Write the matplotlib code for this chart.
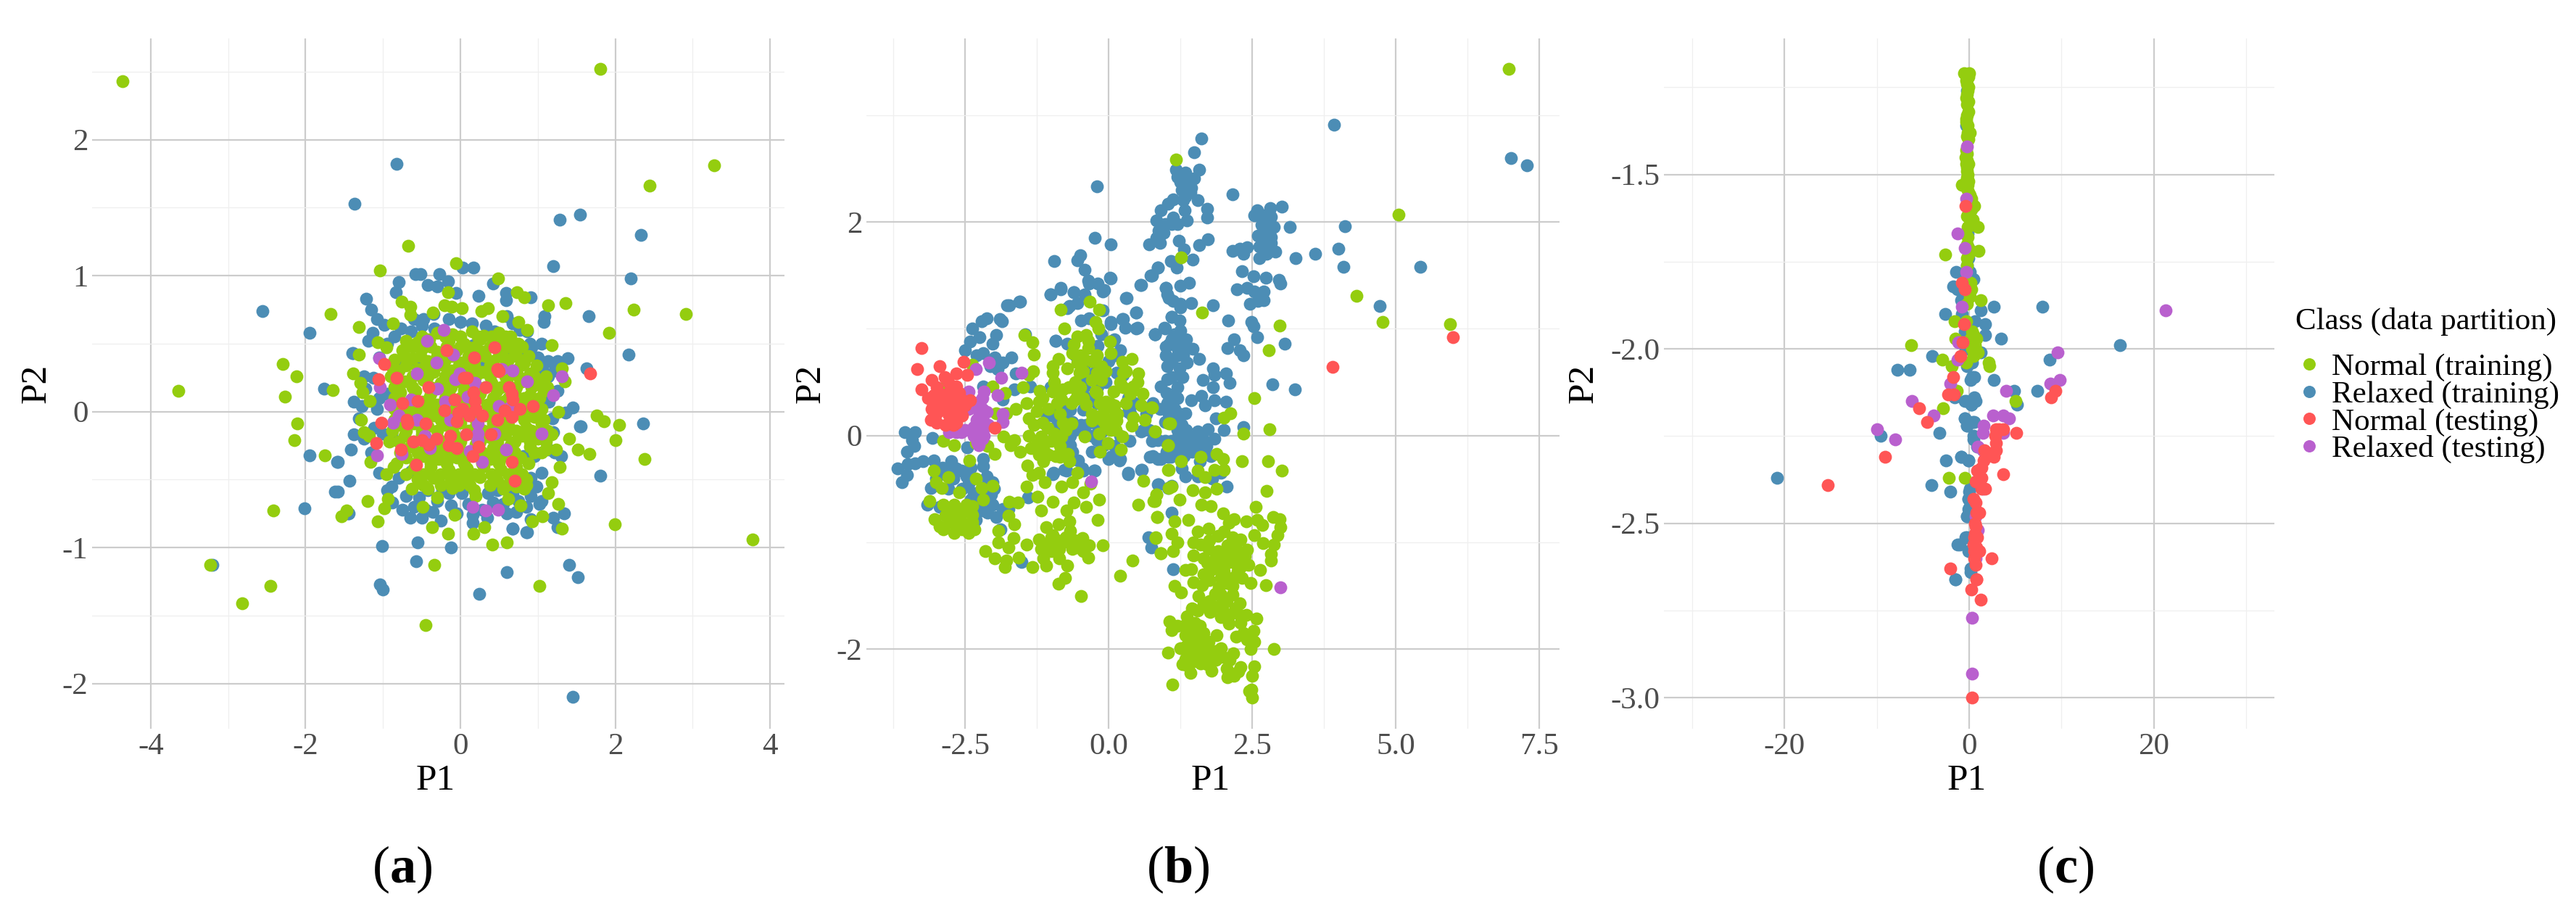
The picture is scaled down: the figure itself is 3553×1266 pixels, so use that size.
import numpy as np
import matplotlib
matplotlib.use("Agg")
import matplotlib.pyplot as plt

# valores leidos a ojo de la figura, (P1, P2)
class_names = ["Normal (training)", "Relaxed (training)", "Normal (testing)", "Relaxed (testing)"]
GREEN = "#94CD0F"
BLUE = "#4C8DB5"
RED = "#FF5555"
PURPLE = "#B960CE"

# ---- panel (a) ----
a_blue = [(.03,1.06),(.17,1.06),(-.58,1.01),(-.52,1.01),(-.27,1.01),(-.16,.96),(-.06,.87),(-.42,.93),(-.30,.92),(-.80,.95),
(-.83,.88),(.42,.94),(.23,.85),(.59,.87),(.91,.84),(.59,.82),(-1.22,.83),(-1.15,.75),(-1.08,.68),(-.98,.64),(-.77,.61),(-.64,.59),
(-.48,.68),(-.5,.63),(-.34,.61),(-1.13,.58),(-1.19,.52),(.33,.63),(.44,.59),(.67,.65),(.77,.60),(.86,.59),(1.09,.70),(1.08,.66),
(1.2,1.07),(1.66,.70),(.92,.47),(1.0,.40),(1.13,.37),(1.25,.37),(1.39,.39),(1.06,.32),(1.13,.26),(.8,.38),(.73,.43),(1.63,.32),
(-1.39,.43),(-1.25,.26),(-1.76,.17),(-1.38,.07),(-1.23,.17),(-1.27,.04),(-1.31,-.05),(-1.38,-.17),(-1.41,-.28),(-1.58,-.37),
(-1.43,-.51),(-1.58,-.59),(-.88,-.67),(-1.44,-.75),(-.65,-.78),(-.5,-.78),(-.25,-.8),(-.36,-.74),(-.12,-.69),(.16,-.82),(.16,-.76),
(.67,-.86),(.72,-.74),(.86,-.89),(.91,-.79),(1.02,-.68),(.91,-.62),(1.05,-.66),(1.2,-.78),(1.25,-.85),(1.34,-.75),(1.81,-.47),
(1.3,-.33),(.95,-.33),(.81,-.33),(1.14,-.28),(1.16,-.16),(1.55,-.11),(1.19,-.05),(1.36,-.01),(1.45,.03),(1.14,.07),(.91,-.49),
(-.89,-.55),(-.8,-.49),(-.64,-.44),(-.53,-.63),(-.42,-.58),(-.23,-.58),(.02,-.6),(-.03,-.53),(.36,-.6),(.48,-.58),(.42,-.67),
(.67,-.6),(-1.11,-.12),(-1.0,-.16),(-.89,-.17),(-.95,.13),(-1.08,.02),(-.8,.33),(-.58,.38),(.17,.49),(.3,.33),(.61,.40),
(-.82,1.82),(-1.37,1.53),(1.54,1.45),(1.28,1.41),(2.33,1.30),(2.2,.98),(-2.56,.74),(-1.95,.58),(2.17,.42),(-1.4,.43),(2.36,-.09),
(1.54,-.11),(-1.95,-.32),(-1.59,-.37),(-1.62,-.59),(-2.01,-.71),(-1.45,-.75),(-1.01,-.99),(-.55,-.96),(-.12,-1.0),(-.57,-1.1),
(.6,-1.18),(1.4,-1.13),(1.52,-1.22),(-3.2,-1.13),(-1.04,-1.27),(-1.0,-1.31),(.24,-1.34),(1.45,-2.1),(.67,-.86),(.85,-.89),
# anillo alrededor de la masa verde
(-.7,-.62),(-.6,-.7),(-.3,-.66),(-.15,-.6),(.1,-.68),(.28,-.72),(.55,-.68),(.75,-.66),(.85,-.7),(-.75,-.72),(-.95,-.58),(-1.05,-.45),
(-1.15,-.3),(-1.25,-.2),(-1.05,.1),(-1.12,.25),(-1.05,.4),(-.95,.5),(-.85,.55),(-.6,.68),(-.35,.72),(-.15,.68),(0,.66),(.15,.65),
(.6,.7),(.9,.5),(1.05,.5),(1.22,.3),(1.25,.15),(1.2,-.15),(1.22,-.3),(1.05,-.45),(.98,-.55),(-.45,-.72),(-.05,-.75),(.35,-.78),(.6,-.75)]

a_green = [(-4.36,2.43),(1.81,2.52),(3.28,1.81),(2.44,1.66),(-.67,1.22),(-.06,1.09),(-1.04,1.04),(.49,.98),(2.91,.72),(2.24,.75),
(1.92,.58),(-1.68,.72),(-2.29,.35),(-2.12,.26),(-3.64,.15),(-2.27,.11),(-1.65,.16),(-2.11,-.09),(-2.14,-.21),(-1.75,-.32),
(-2.42,-.73),(-1.54,-.77),(-1.47,-.73),(-1.2,-.66),(-1.07,-.81),(-3.23,-1.13),(-2.45,-1.28),(-2.82,-1.41),(-.45,-1.57),(-.34,-1.13),
(1.02,-1.28),(3.77,-.94),(1.99,-.83),(2.38,-.35),(2.0,-.21),(2.05,-.10),(1.76,-.03),(1.85,-.07),(1.67,-.31),(1.52,-.28),(1.4,-.2),
(1.28,-.41),(1.24,-.28),(1.18,-.52),(1.13,-.6),(1.26,-.68),(1.31,-.86),(1.06,-.77),(.93,-.81),(.78,-.69),(.6,-.96),(.41,-.98),
(.17,-.9),(.31,-.85),(-.16,-.9),(-.37,-.85),(-.08,-.76),(-.49,-.7),(-.94,-.64),(-.98,-.71),(1.36,.8),(1.13,.78),(.82,.84),(.73,.88),
(1.18,.49),(1.31,.32),(1.35,.22),(1.26,0),(.86,.6),(.75,.66),(-.16,.88),(-.76,.81),(-.65,.77),(-.65,.71),(-.36,.73),(-.21,.78),
(-.11,.77),(.02,.76),(.27,.74),(.36,.76),(.54,.70),(-.87,.65),(-1.31,.62),(-1.31,.42),(-1.39,.28),(-1.07,.51),(-.96,.47),(-1.29,.21),
(-1.26,.14),(-1.17,.08),(-1.28,-.06),(-1.25,-.15),(-1.18,-.18),(-.92,-.22),(-1.16,-.37),(-.86,-.41),(-.96,-.46),(-.63,-.57),
# masa densa del centro
(-.3,.58),(-.1,.57),(.15,.59),(.3,.56),(.5,.58),(.65,.55),(-.7,.52),(-.55,.51),(-.4,.53),(-.15,.52),(.05,.5),(.25,.53),(.45,.51),
(.6,.52),(.75,.5),(-.75,.45),(-.5,.46),(-.3,.44),(-.05,.45),(.1,.47),(.3,.44),(.55,.46),(.7,.44),(-.85,.38),(-.62,.39),(-.42,.37),
(-.2,.38),(0,.36),(.2,.39),(.42,.37),(.62,.38),(.82,.36),(-.8,.3),(-.55,.31),(-.35,.29),(-.12,.3),(.08,.32),(.28,.29),(.48,.31),
(.68,.3),(.9,.28),(-.72,.22),(-.48,.23),(-.25,.21),(-.02,.22),(.18,.24),(.4,.21),(.6,.23),(.8,.22),(1.0,.2),(-.78,.14),(-.58,.15),
(-.38,.13),(-.15,.14),(.05,.16),(.25,.13),(.47,.15),(.7,.14),(.9,.12),(1.08,.15),(-.7,.06),(-.5,.07),(-.3,.05),(-.08,.06),(.12,.08),
(.35,.05),(.55,.07),(.75,.06),(.98,.04),(-.75,-.02),(-.55,-.01),(-.35,-.03),(-.12,-.02),(.1,0),(.32,-.03),(.5,-.01),(.72,-.02),
(.95,-.04),(-.8,-.1),(-.6,-.09),(-.42,-.11),(-.2,-.1),(0,-.08),(.2,-.11),(.42,-.09),(.62,-.1),(.85,-.12),(1.05,-.09),(-.72,-.18),
(-.5,-.17),(-.3,-.19),(-.08,-.18),(.15,-.16),(.38,-.19),(.58,-.17),(.8,-.18),(1.0,-.2),(1.18,-.17),(-.65,-.26),(-.45,-.25),(-.25,-.27),
(-.02,-.26),(.2,-.24),(.42,-.27),(.65,-.25),(.9,-.26),(1.1,-.28),(-.7,-.34),(-.48,-.33),(-.28,-.35),(-.05,-.34),(.18,-.32),(.38,-.35),
(.6,-.33),(.78,-.34),(-.6,-.42),(-.38,-.41),(-.15,-.43),(.08,-.42),(.3,-.4),(.52,-.43),(.72,-.41),(-.55,-.5),(-.35,-.49),(-.12,-.51),
(.08,-.5),(.25,-.48),(.48,-.51),(.68,-.49),(.85,-.5),(-.42,-.57),(-.1,-.56),(.18,-.58),(.55,-.57),(.72,-.55),(.82,-.57),(-.3,-.63),
(.2,-.62),(.62,-.64),
(-.5,.55),(-.2,.55),(0,.55),(.22,.55),(.4,.55),(.58,.55),(-.62,.48),(-.38,.48),(-.18,.48),(0,.48),(.2,.48),(.38,.48),(.62,.48),(.8,.48),
(-.72,.41),(-.52,.41),(-.3,.41),(-.1,.41),(.1,.41),(.32,.41),(.5,.41),(.72,.41),(.88,.41),(-.9,.34),(-.7,.34),(-.45,.34),(-.22,.34),
(-.02,.34),(.18,.34),(.38,.34),(.58,.34),(.78,.34),(.98,.34),(-.9,.26),(-.62,.26),(-.42,.26),(-.2,.26),(0,.26),(.2,.26),(.38,.26),(.58,.26),
(.75,.26),(.95,.26),(1.1,.26),(-.85,.18),(-.62,.18),(-.38,.18),(-.12,.18),(.12,.18),(.32,.18),(.52,.18),(.72,.18),(.92,.18),(1.12,.18),
(-.85,.1),(-.62,.1),(-.4,.1),(-.2,.1),(0,.1),(.22,.1),(.42,.1),(.62,.1),(.82,.1),(1.02,.1),(-.85,.02),(-.62,.02),(-.42,.02),(-.2,.02),(0,.02),
(.2,.02),(.42,.02),(.62,.02),(.85,.02),(1.05,.02),(-.85,-.06),(-.65,-.06),(-.45,-.06),(-.25,-.06),(-.02,-.06),(.2,-.06),(.42,-.06),(.62,-.06),
(.82,-.06),(1.08,-.06),(-.88,-.14),(-.7,-.14),(-.5,-.14),(-.3,-.14),(-.1,-.14),(.1,-.14),(.3,-.14),(.52,-.14),(.72,-.14),(.92,-.14),(1.12,-.14),
(-.8,-.22),(-.6,-.22),(-.4,-.22),(-.2,-.22),(0,-.22),(.25,-.22),(.48,-.22),(.7,-.22),(.9,-.22),(1.1,-.22),(-.78,-.3),(-.55,-.3),(-.35,-.3),
(-.15,-.3),(.08,-.3),(.28,-.3),(.5,-.3),(.7,-.3),(.95,-.3),(1.05,-.3),(-.82,-.38),(-.58,-.38),(-.38,-.38),(-.18,-.38),(.05,-.38),(.28,-.38),
(.5,-.38),(.68,-.38),(.88,-.38),(-.7,-.46),(-.48,-.46),(-.25,-.46),(-.02,-.46),(.18,-.46),(.4,-.46),(.62,-.46),(.8,-.46),(-.48,-.54),(-.25,-.54),
(-.02,-.54),(.12,-.54),(.38,-.54),(.6,-.54),(.85,-.54)]

a_red = [(.44,.475),(-.18,.45),(.18,.40),(-.98,.35),(.5,.295),(.48,.31),(.08,.25),(.05,.25),(-1.06,.24),(-.82,.25),(-.41,.18),(.33,.18),
(.63,.18),(.66,.13),(.67,.09),(.17,.14),(.19,.08),(.2,.02),(-.75,.06),(-.55,.08),(-.08,.09),(-.21,.01),(.03,.02),(-.03,-.01),(.11,-.03),
(.28,-.03),(-.05,-.07),(.57,.01),(.77,.02),(.94,.04),(.48,-.06),(.66,-.04),(-1.02,-.08),(-.69,-.06),(-.68,-.09),(-.45,-.09),(.39,-.17),
(-.13,-.18),(.07,-.17),(-1.09,-.23),(-.61,-.22),(-.5,-.21),(-.41,-.24),(-.31,-.2),(-.77,-.28),(-.15,-.25),(-.05,-.27),(.23,-.26),
(.16,-.33),(.66,-.37),(-.57,-.39),(.7,-.51),(1.68,.28)]

a_purple = [(-.22,.6),(-.43,.52),(-.09,.42),(-.31,.36),(-1.05,.39),(-.56,.28),(-.01,.28),(-.07,.24),(.53,.31),(.67,.3),(.86,.22),(1.31,.26),
(1.2,.12),(.19,.21),(.09,.11),(-.3,.17),(-1.04,.18),(-.64,.09),(-.2,.07),(-.91,.05),(.5,.04),(.64,.03),(-.8,-.03),(-.87,-.08),(-.56,-.06),
(-.13,-.06),(.22,-.09),(.22,-.16),(.22,-.21),(.44,-.16),(1.05,-.16),(-.46,-.18),(-.39,-.27),(-.76,-.31),(-1.08,-.32),(.12,-.29),(.28,-.37),
(.59,-.28),(.16,-.7),(.33,-.73),(.49,-.72)]

# ---- panel (b) ----
b_blue = [(-3.55,.03),(-3.37,.03),(-3.43,-.04),(-3.39,-.1),(-3.51,-.15),(-3.07,-.02),(-3.68,-.31),(-3.6,-.44),(-3.5,-.27),(-3.37,-.26),
(-3.24,-.24),(-3.05,-.23),(-3.52,-.37),(-2.74,-.24),(-2.65,-.31),(-2.86,-.36),(-2.57,-.33),(-2.48,-.38),(-3.01,-.4),(-3.1,-.49),(-2.44,-.45),
(-2.35,-.54),(-2.19,-.22),(-2.19,-.29),(-2.13,-.38),(-2.03,-.44),(-2.0,-.5),(-2.15,-.58),(-2.03,-.65),(-1.85,-.69),(-1.75,-.69),(-2.11,-.72),
(-1.96,-.76),(-1.89,-.88),(-3.16,-.65),(-2.95,-.67),(-2.32,-.79),(-2.63,-.8),(-2.46,-.11),(-1.41,-.58),(-1.52,-1.18),(-1.77,1.22),(-1.56,1.25),
(-2.13,1.1),(-2.21,1.07),(-1.9,1.09),(-1.86,1.07),(-2.38,1.0),(-2.25,.92),(-1.96,.94),(-2.03,.86),(-2.42,.88),(-2.51,.8),(-2.3,.75),(-2.19,.77),
(-1.98,.73),(-1.69,.73),(-1.85,.68),(-2.06,.65),(-1.93,.62),(-1.62,.58),(-2.19,.46),(-1.85,.34),(-1.37,.46),(-1.64,.43),(-1.45,.95),
(-1.01,1.32),(-.84,1.37),(-.61,1.34),(-.42,1.32),(-.36,1.45),(-.19,1.42),(-.08,1.36),(.02,1.48),(.3,1.29),(.55,1.41),(.74,1.5),(-.72,1.19),
(-.55,1.24),(-.11,1.17),(-.48,1.08),(-.34,1.1),(.04,1.06),(.23,1.09),(.47,1.15),(.29,1.01),(.48,1.0),(.8,.95),(.97,1.01),(-.93,.89),(-.72,.86),
(-.13,.95),(-.29,.84),(-.59,.75),(-.42,.66),(-.25,.59),(-.42,.46),(.06,.89),(.13,.59),(-1.01,.45),(-.99,.19),(-.67,.24),(-1.05,.2),(-.88,.25),
(-.44,.24),(-.48,.1),(-.13,.03),(-.21,-.04),(-.67,0),(-.67,-.09),(-.63,-.15),(-.53,-.23),(-.97,-.36),(-.78,-.32),(-.26,-.33),(-.44,-.33),(0,-.22),
(.19,-.23),(.34,-.36),(.57,-.32),(.36,-.05),(.34,.22),(.57,.04),(.86,-.04),(.72,-.2),(.86,-.22),(1.03,-.2),(.86,-.46),(1.03,-.49),(.69,-.95),
(.74,-1.05),(1.09,-.72),(1.12,-1.25),(.99,1.38),(1.05,1.29),(1.09,1.11),
(1.61,2.78),(1.48,2.65),(1.57,2.49),(1.17,2.49),(1.33,2.46),(1.48,2.41),(1.25,2.37),(1.4,2.36),(1.27,2.3),(1.44,2.32),(1.34,2.24),(1.12,2.21),
(1.55,2.2),(1.03,2.17),(.91,2.11),(1.32,2.11),(1.71,2.12),(1.71,2.04),(.83,2.01),(1.12,2.04),(1.19,1.98),(1.36,2.01),(.98,1.98),(.87,1.92),
(.83,1.85),(.89,1.8),(.7,1.79),(1.22,1.82),(1.72,1.84),(1.57,1.78),(1.31,1.74),(1.46,1.65),(1.08,1.63),(.85,1.57),(1.18,1.57),(.75,1.5),(1.4,1.43),
(1.24,1.4),(.99,1.38),(1.02,1.32),(1.12,1.26),(1.25,1.23),(1.44,1.24),(1.24,1.2),(1.81,1.22),(1.1,1.11),(1.23,1.08),(2.08,1.08),(.98,1.0),(.81,.95),
(1.25,.98),(1.1,.86),(.99,.83),(1.23,.89),(1.46,.81),(.99,.75),(1.19,.75),(1.36,.68),(1.57,.72),(1.02,.65),(1.23,.63),(1.29,.55),(1.02,.53),(.91,.46),
(1.15,.39),(1.64,.52),(1.82,.63),(1.84,.57),(2.04,.58),(2.1,.49),(1.82,.45),(1.44,.33),(1.61,.37),(1.84,.33),(2.04,.32),(1.67,.28),(1.02,.3),(.77,.3),
(.89,.25),(1.15,.25),(1.33,.21),(1.86,.16),(.98,.13),(1.27,.1),(1.55,.04),(1.73,.06),(2.01,.05),(2.34,.08),(1.84,-.03),(1.65,-.04),(1.42,-.01),
(1.19,-.02),(.98,-.05),(1.4,-.09),(1.19,-.13),(.77,-.19),(.91,-.22),(1.08,-.2),(1.31,-.19),(1.59,-.24),(1.78,-.19),(1.27,-.31),(1.33,-.38),(1.55,-.38),
(1.8,-.4),(1.95,-.35),(2.05,-.48),(.87,-.46),(1.09,-.47),
(2.58,2.11),(2.81,2.13),(3.01,2.14),(2.54,2.06),(2.7,2.06),(2.83,2.05),(2.66,1.97),(2.87,1.95),(3.15,1.95),(2.74,1.92),(2.6,1.87),(2.83,1.86),
(2.83,1.8),(2.62,1.77),(2.41,1.76),(2.28,1.75),(2.16,1.73),(2.35,1.7),(2.9,1.72),(2.62,1.66),(3.26,1.66),(3.6,1.7),(4.11,1.96),(4.0,1.75),(4.09,1.58),
(2.32,1.54),(2.52,1.49),(2.74,1.48),(2.96,1.46),(2.99,1.42),(2.23,1.37),(2.41,1.38),(2.53,1.35),(2.7,1.35),(2.7,1.27),(2.46,1.23),(2.6,1.26),(2.48,1.06),
(2.52,1.02),(2.59,.92),(2.16,2.26),(3.07,.86),(2.18,.9),(2.07,.82),(2.28,.8),(2.35,.75),(2.85,.48),(3.24,.43),(4.72,1.21),(5.42,1.58),(3.92,2.91),
(7.0,2.6),(7.28,2.53),(-.21,2.33),(-.24,1.85),(.04,1.79),(-.95,1.63),(-.5,1.69),(-.55,1.64),(-.42,1.55),(.03,1.47),(-.35,1.42),(-.11,1.35),(-.84,1.38),
(-1.01,1.32),(-.61,1.34),(.31,1.29),(.56,1.41),(.73,1.5),(.85,1.57),(.47,1.15),(.25,1.09),(.03,1.04),(.5,1.01),(-.92,.89),(-.68,1.21),(-1.74,1.22),
(-1.55,1.25),(.81,.95),(.34,.35),(.25,.57),(.38,.21),(.6,.05),(-.24,.68),(-.19,.84),(-.46,.57),(-.81,.24),(-1.08,.19),(-.64,.13),(-.37,.35),(-.19,.46),
(.03,-.2),(.2,-.22),(.34,-.35),(.58,-.32),(-.96,-.35),(-.73,-.33),(-.46,-.31),(-.24,-.33),
(1.1,.7),(1.3,.75),(1.1,.55),(1.2,.45),(1.0,.4),(1.15,.15),(1.25,.2),(1.05,.2),(1.2,.05),(1.35,.05),(1.1,-.05),(1.3,-.08),(1.45,-.15),(1.5,-.05),(1.6,-.12),
(1.7,-.1),(1.35,0),(1.0,-.15),(1.2,.35),(1.1,.9),(1.15,.95),(1.2,.82),(1.05,.85),(1.3,.8),(1.35,.9),(1.3,2.4),(1.35,2.3),(1.42,2.28),(1.2,2.42),(1.3,2.2),
(1.1,1.98),(.95,1.9),(2.7,1.9),(2.75,2.0),(2.7,1.8),(2.75,1.7),(2.65,1.85),(-2.8,-.5),(-2.7,-.4),(-2.55,-.5),(-2.4,-.6),(-2.25,-.6),(-2.15,-.48),(-2.2,-.7),
(-2.05,-.55),(-2.9,-.3),(-2.75,-.3),(-2.4,-.3),(-.3,0),(-.2,.1),(-.1,.3),(-.05,.5),(0,.7),(.1,.75),(.2,.8),(.1,.9),(-.2,.3),(-.4,.1),(-.6,.05),(-.85,-.05),
(-.9,.1),(-.75,.15),(-.3,-.15),(-.1,-.1),(.1,-.1),(.2,0),(.45,.3),(.65,.2),(.7,.05),(.75,-.05)]

b_green = [(-.84,1.18),(-.33,1.25),(-.17,1.18),(-.78,1.0),(-.23,1.06),(-.18,1.0),(-1.47,.94),(-1.33,.87),(-1.3,.76),(-1.32,.6),(-1.39,.57),(-1.49,.45),
(.02,.88),(-.55,.93),(-.4,.94),(-.36,.89),(-.61,.85),(-.36,.82),(-.63,.77),(-.42,.71),(-.88,.72),(-.97,.65),(-.97,.59),(-.72,.63),(-.51,.59),(.04,.77),
(.23,.69),(.4,.72),(-.13,.65),(-.21,.59),(.51,.58),(.25,.59),(-.59,.5),(-.13,.52),(.42,.46),(.59,.39),(.38,.39),(-.23,.41),(.08,.41),(-1.2,.42),(-.97,.41),
(-.8,.43),(-.82,.34),(-.59,.34),(-1.22,.32),(-1.43,.3),(-.4,.29),(-1.62,.25),(-.08,.25),(.08,.25),(.57,.28),(.74,.26),(.42,.17),(.63,.15),(1.05,.11),
(-1.39,.16),(-1.26,.23),(-.29,.14),(-.11,.14),(.13,.14),(-.8,.12),(-.65,.11),(-1.07,.07),(.4,.09),(.8,.04),(-.42,-.01),(-.17,.02),(.04,.05),(.23,-.01),
(-1.83,-.01),(-1.64,-.04),(-1.39,0),(-1.18,-.01),(-.82,-.01),(-1.71,-.09),(-1.54,-.15),(-1.35,-.12),(-1.14,-.11),(-.93,-.19),(-1.22,-.18),(-1.14,-.24),
(-.71,-.17),(-.69,-.24),(-.16,-.15),(-.02,-.07),(.21,-.13),(1.03,-.09),(-1.98,-.17),(-2.11,-.1),(-2.32,-.07),(-2.88,-.05),(-2.69,-.09),(-2.43,-.23),
(-1.42,-.28),(-1.33,-.37),(-1.22,-.35),(-1.12,-.44),(-.55,-.35),(-.63,-.44),(-.82,-.48),(-1.43,-.48),(-1.24,-.57),(-.32,-.45),(-.44,-.53),(-.17,-.6),
(-.39,-.67),(-.61,-.63),(-.74,-.7),(-.98,-.62),(-1.18,-.7),(-1.73,-.62),(-1.58,-.63),(-1.75,-.75),(-1.64,-.83),(-1.92,-.89),(-1.66,-.96),(-1.92,-1.0),
(-1.75,-1.05),(-1.43,-1.02),(-2.15,-1.08),(-1.98,-1.15),(-1.79,-1.17),(-1.81,-1.23),(-1.57,-1.14),(-1.33,-1.23),(-1.09,-1.22),(-.86,-1.06),(-.86,-1.15),
(-.72,-1.22),(-.76,-1.33),(-.87,-1.39),(-.48,-1.5),(.2,-1.31),(.41,-1.17),(-.11,-1.03),(-.19,-.79),(-.36,-1.14),(-.46,-.96),(-.34,-1.03),(-.63,-1.06),
(-1.22,-.97),(-1.18,-1.06),(-1.09,-.86),(-.88,-.83),(-.67,-.89),(-.69,-.8),(-.97,-.93),(-1.14,-1.15),(.51,-.65),(.6,-.42),(.83,-.55),(.78,-.61),(.84,-.76),
(.82,-.96),(.91,-1.1),(1.05,-.49),(1.03,-.32),(-3.05,-.33),(-2.8,-.39),(-3.01,-.44),(-2.91,-.49),(-2.61,-.53),(-2.31,-.4),(-2.21,-.49),(-2.03,-.47),
(-2.19,-.6),(-3.12,-.61),(-2.88,-.65),(-2.69,-.65),(-2.48,-.65),(-2.38,-.66),(-2.77,-.73),(-2.55,-.73),(-2.38,-.74),(-3.03,-.78),(-2.77,-.81),(-2.38,-.81),
(-2.88,-.88),(-2.69,-.91),(-2.44,-.91),(-2.34,-.88),(-2.56,-.88),(-2.38,.66),(-2.82,.48),(-2.02,.46),(-1.81,.4),(-1.96,.21),(-1.79,.21),
(1.26,-.24),(1.6,-.2),(1.88,-.17),(1.99,-.22),(2.32,-.24),(2.77,-.24),(3.01,-.33),(1.04,-.32),(1.55,-.33),(1.68,-.39),(1.84,-.32),(2.0,-.32),(1.09,-.48),
(1.46,-.51),(1.68,-.53),(1.88,-.5),(2.75,-.52),(.83,-.55),(.8,-.61),(1.23,-.6),(1.61,-.65),(1.78,-.66),(2.56,-.67),(.84,-.76),(1.15,-.8),(1.38,-.79),
(1.99,-.73),(2.18,-.78),(2.09,-.82),(2.39,-.8),(2.58,-.79),(2.67,-.84),(2.86,-.76),(2.97,-.78),(2.99,-.86),(2.94,-.93),(2.88,-1.02),(2.68,-1.01),(2.53,-.93),
(2.3,-.97),(1.1,-.92),(.82,-.95),(1.19,-1.0),(1.12,-1.08),(.91,-1.1),(1.47,-1.0),(1.55,-.9),(1.74,-.87),(1.9,-.94),(2.07,-1.03),(1.74,-1.06),(1.9,-1.08),
(2.11,-1.11),(2.41,-1.07),(2.37,-1.13),(2.82,-1.11),(2.83,-1.17),(1.47,-1.12),(1.71,-1.19),(1.44,-1.25),(1.34,-1.26),(1.9,-1.19),(2.07,-1.19),(2.3,-1.23),
(2.43,-1.21),(2.64,-1.26),(1.65,-1.3),(1.95,-1.33),(2.16,-1.33),(2.32,-1.33),(2.47,-1.38),(2.74,-1.4),(1.15,-1.41),(1.26,-1.47),(1.47,-1.37),(1.63,-1.4),
(1.92,-1.42),(2.16,-1.41),(1.56,-1.5),(1.95,-1.49),(2.16,-1.49),(1.65,-1.58),(2.28,-1.57),(1.55,-1.64),(1.76,-1.65),(1.99,-1.64),(2.2,-1.62),(2.39,-1.68),
(2.57,-1.71),(1.36,-1.69),(1.06,-1.74),(2.09,-1.76),(1.1,-1.82),(1.31,-1.78),(1.59,-1.78),(1.88,-1.87),(2.22,-1.88),(2.52,-1.83),(2.41,-1.91),(2.54,-1.93),
(1.34,-1.87),(1.57,-1.88),(1.74,-1.93),(1.25,-1.99),(1.48,-1.96),(1.95,-1.99),(2.17,-2.04),(1.03,-2.03),(2.47,-2.0),(2.87,-2.0),(1.34,-2.09),(1.57,-2.07),
(1.76,-2.09),(1.99,-2.07),(1.29,-2.14),(1.71,-2.14),(1.42,-2.22),(1.79,-2.2),(2.05,-2.18),(2.3,-2.17),(2.53,-2.16),(2.49,-2.25),(2.07,-2.26),(2.26,-2.21),
(1.11,-2.33),(2.44,-2.39),(2.48,-2.38),(2.5,-2.45),(1.17,2.58),(1.26,1.67),(1.62,1.15),(2.98,1.03),(2.79,.8),(2.53,.35),(2.12,.21),(2.01,.17),(2.35,.02),
(2.8,.06),(1.07,.11),(1.03,-.09),(.81,.04),(.75,.26),(4.31,1.31),(4.77,1.06),(5.05,2.07),(6.96,3.43),(5.94,1.04),
(1.6,-1.02),(1.75,-.98),(2.0,-.9),(2.15,-.95),(1.85,-1.15),(2.0,-1.12),(2.2,-1.05),(2.3,-1.12),(1.65,-1.15),(1.8,-1.25),(2.0,-1.27),(2.2,-1.2),(1.75,-1.35),
(2.05,-1.38),(2.25,-1.27),(1.85,-1.48),(2.05,-1.55),(1.75,-1.55),(1.9,-1.6),(2.28,-1.68),(2.1,-1.68),(1.45,-1.62),(1.5,-1.75),(1.2,-1.78),(1.4,-1.8),(1.5,-1.85),
(1.65,-1.85),(1.42,-1.92),(1.6,-1.95),(1.35,-1.97),(1.75,-2.0),(1.85,-2.02),(1.4,-2.03),(1.5,-2.05),(1.65,-2.03),(2.1,-2.1),(1.45,-2.12),(1.87,-2.1),(2.1,-2.22),
(2.18,-2.25),(1.35,-2.15),(1.6,-2.13),(1.95,-1.7),(2.3,-1.75),(2.35,-1.85),(-.5,.75),(-.45,.6),(-.55,.68),(-.3,.52),(-.2,.4),(-.15,.3),(-.1,.2),(-.05,.1),(.02,.15),
(.1,.28),(.12,.05),(-.05,.32),(.02,.3),(.15,.2),(.25,.45),(.3,.3),(-.85,.2),(-1.05,.25),(-1.15,.12),(-1.0,-.05),(-.85,-.1),(-.95,.02),(-1.25,-.08),(-1.05,-.18),
(-.85,-.2),(-.75,.05),(-.55,.4),(-.7,.45),(-.65,.3),(-.45,.35),(-.5,.45),(-.3,.7),(-.2,.75),(-.95,.5),(-.9,.3),(-1.15,.35),(-1.3,.1),(-.3,.2),(-.05,.6),(.2,.5),
(.3,.6),(.5,.5),(-1.0,-.95),(-1.05,-1.02),(-1.0,-1.08),(-.95,-1.0),(-.9,-.98),(-.75,-.95),(-.8,-1.0),(-.6,-.98),(-.55,-1.05),(-.45,-1.08),(-2.65,-.7),(-2.6,-.78),
(-2.7,-.8),(-2.85,-.75),(-2.5,-.83),(-2.65,-.85),(-2.45,-.7),(-2.8,-.68),(-2.95,-.85)]

b_red = [(-3.26,.82),(-3.34,.62),(-2.53,.69),(-2.94,.65),(-2.47,.57),(-2.65,.58),(-3.09,.52),(-2.86,.55),(-3.26,.43),(-2.65,.46),(-2.82,.39),(-3.07,.32),
(-2.91,.32),(-2.74,.33),(-2.57,.34),(-2.42,.33),(-3.09,.25),(-2.92,.25),(-2.74,.26),(-2.55,.19),(-3.01,.2),(-3.1,.15),(-2.76,.14),(-2.65,.12),(-2.97,.39),
(-1.98,.07),(3.9,.64),(6.0,.92),(-3.0,.45),(-2.8,.5),(-2.75,.45),(-3.15,.35),(-2.95,.28),(-2.85,.28),(-2.8,.2),(-2.68,.2),(-2.62,.28),(-2.5,.28),(-3.05,.38),
(-2.85,.1),(-2.98,.22),(-3.0,.12),(-2.7,.1),(-2.7,.36),(-2.6,.4)]

b_purple = [(-2.09,.68),(-2.32,.62),(-2.44,.41),(-1.87,.54),(-1.52,.59),(-1.94,.38),(-2.17,.41),(-2.25,.32),(-2.44,.25),(-1.85,.2),(-1.85,.13),(-2.25,.2),
(-2.19,.14),(-2.17,.07),(-2.78,.03),(-2.57,.03),(-2.4,.05),(-2.17,0),(-2.29,-.06),(-2.65,.16),(-.31,-.43),(2.99,-1.42),(-2.3,.28),(-2.2,.25),(-2.2,.35),
(-2.3,.15),(-2.35,.08),(-2.25,.05),(-2.3,-.03),(-2.2,-.03),(-2.1,.1),(-2.12,.22),(-2.5,.05),(-2.65,.03),(-2.35,0),(-2.27,-.09)]

# ---- panel (c) ----
c_blue = [(-.2,-1.26),(-.34,-1.36),(-.14,-1.67),(-.07,-1.71),(-.2,-1.76),(-1.42,-1.78),(.47,-1.8),(-1.76,-1.82),(-1.22,-1.83),(-.88,-1.86),(-2.58,-1.9),
(1.22,-1.89),(2.71,-1.88),(7.93,-1.88),(1.69,-1.93),(1.76,-1.96),(3.46,-1.97),(.14,-1.97),(16.3,-1.99),(1.29,-2.01),(-4,-2.02),(8.75,-2.03),(-7.8,-2.06),
(-6.44,-2.06),(.14,-2.09),(.54,-2.08),(2.71,-2.09),(4.88,-2.12),(7.39,-2.12),(5.15,-2.16),(-1.56,-2.14),(-.34,-2.15),(.68,-2.15),(.2,-2.16),(-.47,-2.2),
(.41,-2.21),(-.2,-2.22),(-3.25,-2.24),(-9.56,-2.25),(.47,-2.26),(-.88,-2.31),(-.07,-2.32),(-2.51,-2.32),(-20.8,-2.37),(-4.07,-2.39),(-2.03,-2.41),(0,-2.41),
(-.07,-2.43),(-.07,-2.46),(-.27,-2.48),(-.41,-2.54),(-1.22,-2.56),(-.07,-2.58),(.14,-2.63),(-1.49,-2.66),(.31,-2.08),(-.47,-2.15),(.58,-2.14),(.26,-2.16),
(-.47,-2.2),(-.21,-2.22),(.58,-2.21),(.45,-2.25),(.84,-2.28),(-.86,-2.31),(-.08,-2.32),(.05,-2.4),(-.08,-2.43),(.05,-2.45),(-.21,-2.48),(-.21,-2.54),
(-.99,-2.56),(.18,-2.64),(-1.52,-2.66),(-.1,-1.74),(-.2,-1.79),(-.6,-1.84),(-.3,-1.82),(.1,-1.78),(-.8,-1.9),(-.5,-1.95),(-.4,-2.0),(-.2,-2.05),(.3,-2.04),(.6,-1.92)]

c_green = [(-.54,-1.21),(0,-1.21),(-.2,-1.24),(-.07,-1.25),(-.34,-1.28),(-.2,-1.3),(-.07,-1.32),(-.34,-1.35),(-.14,-1.38),(.07,-1.38),(-.41,-1.45),(-.27,-1.46),
(-.2,-1.48),(-.14,-1.5),(-.2,-1.51),(-.75,-1.53),(-.14,-1.53),(.27,-1.57),(.54,-1.59),(-.27,-1.62),(.41,-1.63),(.95,-1.65),(-.14,-1.68),(1.02,-1.72),(-.2,-1.74),
(-2.58,-1.73),(-.07,-1.71),(.14,-1.81),(1.29,-1.86),(-.27,-1.87),(-1.56,-1.92),(-.34,-1.92),(-1.49,-1.97),(.14,-1.97),(.61,-1.99),(-6.3,-1.99),(.95,-2.01),
(-2.92,-2.03),(.47,-2.02),(-.34,-2.04),(2.1,-2.04),(2.17,-2.05),(-1.9,-2.05),(-1.36,-2.12),(5.02,-2.15),(-2.85,-2.17),(-2.17,-2.37),(-.47,-2.37),
(-.1,-1.22),(-.3,-1.23),(-.15,-1.26),(-.25,-1.27),(-.1,-1.29),(-.2,-1.33),(-.3,-1.34),(-.15,-1.36),(-.25,-1.39),(-.1,-1.4),(-.3,-1.43),(-.2,-1.44),(-.3,-1.47),
(-.1,-1.47),(-.25,-1.49),(-.3,-1.52),(-.05,-1.52),(-.1,-1.55),(-.2,-1.54),(.1,-1.56),(.2,-1.6),(-.1,-1.61),(.1,-1.63),(-.15,-1.65),(-.2,-1.7),(-.1,-1.73),
(-.2,-1.76),(.2,-1.83),(.1,-1.85),(.3,-1.95),(.5,-1.96),(.7,-2.0),(.8,-1.97),(.3,-2.0),(.4,-1.98)]

c_red = [(-.41,-1.59),(-.81,-1.81),(-.47,-1.83),(-.54,-1.93),(-.68,-1.98),(-.95,-2.02),(-1.69,-2.08),(-2.3,-2.13),(-1.63,-2.13),(9.36,-2.12),(8.88,-2.14),
(-5.42,-2.17),(-4.54,-2.21),(5.08,-2.24),(-9.15,-2.31),(-15.3,-2.39),(3.73,-2.36),(3.19,-2.23),(2.88,-2.23),(3.72,-2.23),(2.8,-2.25),(2.93,-2.27),(2.93,-2.29),
(1.62,-2.29),(2.67,-2.31),(1.36,-2.34),(.84,-2.35),(1.36,-2.4),(1.75,-2.4),(.71,-2.44),(1.1,-2.47),(.97,-2.47),(.71,-2.51),(.58,-2.54),(.45,-2.56),(1.1,-2.58),
(.58,-2.58),(2.46,-2.6),(-2.04,-2.63),(.79,-2.66),(.27,-2.69),(1.29,-2.72),(.34,-3.0),(.8,-2.66),(.7,-2.38),(.5,-2.43),(.6,-2.5),(.55,-2.6),(.7,-2.62),(1.3,-2.37),
(1.6,-2.32),(2.2,-2.3),(.8,-2.57),(.9,-2.54),(.8,-2.47),(.65,-2.53)]

c_purple = [(-.2,-1.42),(-.34,-1.57),(-1.29,-1.67),(-.47,-1.71),(-.34,-1.78),(-.81,-1.88),(21.3,-1.89),(-1.15,-1.98),(-1.29,-2.03),(9.56,-2.01),(9.83,-2.09),
(8.81,-2.1),(4.0,-2.12),(-2.03,-2.1),(-6.24,-2.15),(-3.86,-2.19),(-9.97,-2.23),(-8.0,-2.26),(2.58,-2.19),(3.66,-2.19),(4.34,-2.2),(1.56,-2.22),(1.49,-2.24),
(3.66,-2.24),(1.49,-2.29),(.95,-2.28),(1.49,-2.4),(.68,-2.48),(.95,-2.52),(.68,-2.6),(.34,-2.77),(.34,-2.93)]

# ticks de cada panel
a_xmajor = [-4, -2, 0, 2, 4]
a_xminor = [-3, -1, 1, 3]
a_ymajor = [-2, -1, 0, 1, 2]
a_yminor = [-1.5, -.5, .5, 1.5, 2.5]
b_xmajor = [-2.5, 0, 2.5, 5, 7.5]
b_xminor = [-3.75, -1.25, 1.25, 3.75, 6.25]
b_ymajor = [-2, 0, 2]
b_yminor = [-1, 1, 3]
c_xmajor = [-20, 0, 20]
c_xminor = [-30, -10, 10, 30]
c_ymajor = [-3, -2.5, -2, -1.5]
c_yminor = [-2.75, -2.25, -1.75, -1.25]

W, H = 3553, 1266
plt.rcParams['font.family'] = ['Liberation Serif', 'DejaVu Serif']
plt.rcParams['mathtext.fontset'] = 'custom'
plt.rcParams['mathtext.rm'] = 'Liberation Serif'
plt.rcParams['mathtext.bf'] = 'Liberation Serif:bold'

fig = plt.figure(figsize=(W / 100, H / 100), dpi=100)


def panel(box, xlim, ylim, blue, green, purple, red, xmaj, xmin, ymaj, ymin, xfmt, yfmt):
    # box en pixeles: izquierda, arriba, derecha, abajo
    ax = fig.add_axes([box[0] / W, 1 - box[3] / H, (box[2] - box[0]) / W, (box[3] - box[1]) / H])
    for pts, col in [(blue, BLUE), (green, GREEN), (purple, PURPLE), (red, RED)]:
        arr = np.array(pts)
        ax.scatter(arr[:, 0], arr[:, 1], s=165, color=col, linewidths=0, zorder=3, clip_on=False)
    ax.set_xlim(xlim)
    ax.set_ylim(ylim)
    ax.set_xticks(xmaj)
    ax.set_xticklabels([xfmt % v for v in xmaj])
    ax.set_yticks(ymaj)
    ax.set_yticklabels([yfmt % v for v in ymaj])
    ax.set_xticks(xmin, minor=True)
    ax.set_yticks(ymin, minor=True)
    ax.grid(True, which='major', color='#CCCCCC', linewidth=1.6, zorder=0)
    ax.grid(True, which='minor', color='#EFEFEF', linewidth=0.9, zorder=0)
    ax.set_axisbelow(True)
    ax.tick_params(which='both', length=0)
    ax.tick_params(axis='both', which='major', labelsize=31, labelcolor='#4D4D4D', pad=4)
    for s in ax.spines.values():
        s.set_visible(False)
    return ax


panel((127, 52.5, 1082, 1005), (-4.757, 4.185), (-2.333, 2.747), a_blue, a_green, a_purple, a_red,
      a_xmajor, a_xminor, a_ymajor, a_yminor, '%d', '%d')
panel((1194.7, 52.5, 2151, 1005), (-4.225, 7.85), (-2.744, 3.72), b_blue, b_green, b_purple, b_red,
      b_xmajor, b_xminor, b_ymajor, b_yminor, '%.1f', '%d')
panel((2295, 52.5, 3137, 1005), (-33.07, 33.07), (-3.089, -1.109), c_blue, c_green, c_purple, c_red,
      c_xmajor, c_xminor, c_ymajor, c_yminor, '%d', '%.1f')

# titulos de ejes y etiquetas de panel
for x_p1, x_p2, x_lab, lab in [(601, 50, 555, 'a'), (1670, 1118, 1625, 'b'), (2713, 2184, 2849, 'c')]:
    fig.text(x_p1 / W, 1 - 1077 / H, 'P1', fontsize=37, ha='center', va='center', color='black')
    fig.text(x_p2 / W, 1 - 529 / H, 'P2', fontsize=37, ha='center', va='center', rotation=90, color='black')
    fig.text(x_lab / W, 1 - 1199 / H, r'$\mathrm{(}\mathbf{%s}\mathrm{)}$' % lab, fontsize=52,
             ha='center', va='center', color='black')

handles = [plt.Line2D([], [], linestyle='none', marker='o', markersize=12.2, markeredgewidth=0, color=c)
           for c in [GREEN, BLUE, RED, PURPLE]]
leg = fig.legend(handles, class_names, title='Class (data partition)', fontsize=31, title_fontsize=31,
                 loc='upper left', bbox_to_anchor=(3166 / W, 1 - 424 / H), frameon=False, alignment='left',
                 labelspacing=-0.03, handletextpad=0.25, handlelength=0.9, borderpad=0, borderaxespad=0)
leg._legend_box.sep = 17  # separacion titulo / entradas

fig.savefig('out.png', dpi=100, facecolor='white')
